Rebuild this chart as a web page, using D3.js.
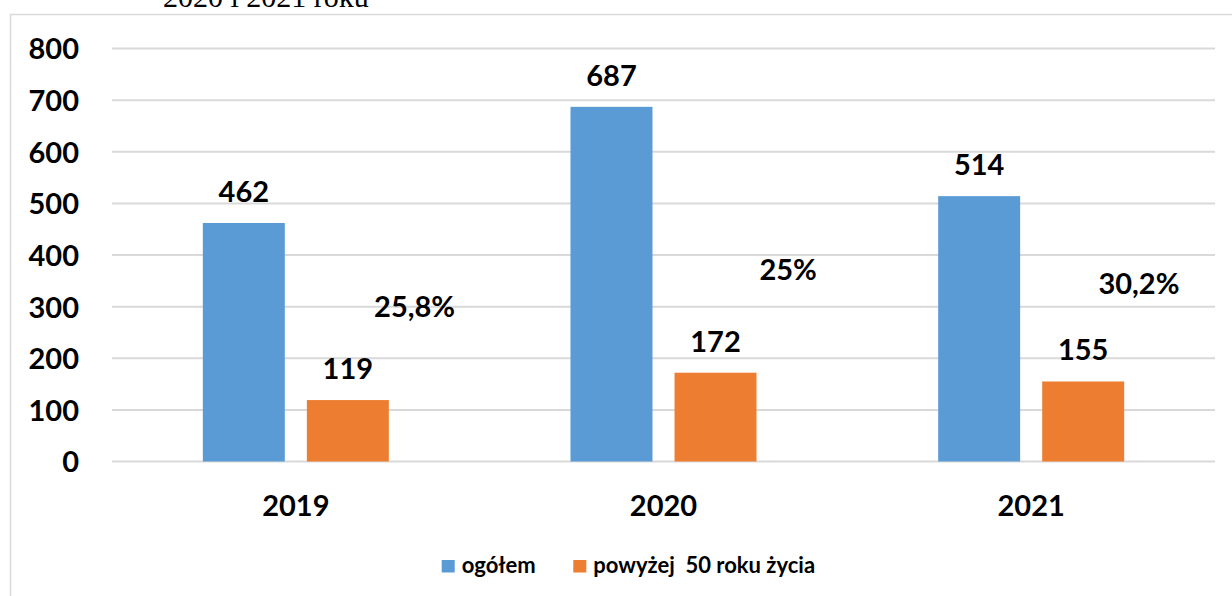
<!DOCTYPE html>
<html>
<head>
<meta charset="utf-8">
<script src="https://cdn.jsdelivr.net/npm/d3@7"></script>
<style>
  html, body { margin: 0; padding: 0; background: #fff; }
  svg { display: block; }
  text { font-family: Lato, "Open Sans", sans-serif; font-weight: bold; fill: #000; }
</style>
</head>
<body>
<svg id="chart" width="1232" height="596"></svg>
<script>
const categories = ["2019", "2020", "2021"];
const seriesNames = ["ogółem", "powyżej  50 roku życia"];
const totalValues = [462, 687, 514];
const over50Values = [119, 172, 155];
const percentLabels = ["25,8%", "25%", "30,2%"];
const yTicks = [0, 100, 200, 300, 400, 500, 600, 700, 800];
const colors = ["#5b9bd5", "#ed7d31"];

const svg = d3.select("#chart");
const W = 1232, H = 596;

// outer frame
svg.append("rect")
  .attr("x", 10.5).attr("y", 14.5)
  .attr("width", W + 20).attr("height", H + 20)
  .attr("fill", "none").attr("stroke", "#d9d9d9").attr("stroke-width", 1.5);

// cut-off caption at the top
svg.append("text")
  .attr("x", 163).attr("y", 7)
  .style("font-family", "'Liberation Serif', 'Times New Roman', serif")
  .style("font-weight", "normal")
  .style("font-size", "30px")
  .text("2020 i 2021 roku");

const plotLeft = 112, plotRight = 1215;
const y = d3.scaleLinear().domain([0, 800]).range([461.5, 48.5]);
const x0 = d3.scaleBand().domain(categories).range([plotLeft, plotRight]).padding(0);
const outer = (x0.bandwidth() - 186) / 2;
const x1 = d3.scaleBand().domain(seriesNames)
  .range([outer, x0.bandwidth() - outer]).paddingInner(0.212).paddingOuter(0);

// gridlines
svg.append("g").selectAll("line").data(yTicks).join("line")
  .attr("x1", plotLeft).attr("x2", plotRight)
  .attr("y1", d => y(d)).attr("y2", d => y(d))
  .attr("stroke", "#d9d9d9").attr("stroke-width", 2);

// y axis labels
const yAxis = d3.axisLeft(y).tickValues(yTicks).tickSize(0).tickPadding(0);
const gy = svg.append("g").attr("transform", "translate(79,0)").call(yAxis);
gy.select(".domain").remove();
gy.selectAll("text")
  .attr("font-family", null).attr("font-size", null)
  .style("font-size", "29px").attr("dy", "0.36em").attr("x", 0);

// x axis labels
const xAxis = d3.axisBottom(x0).tickSize(0).tickPadding(0);
const gx = svg.append("g").attr("transform", "translate(0,516)").call(xAxis);
gx.select(".domain").remove();
gx.selectAll("text")
  .attr("font-family", null).attr("font-size", null)
  .style("font-size", "29px").attr("dy", 0).attr("y", 0);

// bars
const rows = categories.map((c, i) => ({ cat: c, vals: [totalValues[i], over50Values[i]] }));
const groups = svg.append("g").selectAll("g").data(rows).join("g")
  .attr("transform", d => `translate(${x0(d.cat)},0)`);

groups.selectAll("rect").data(d => d.vals.map((v, j) => ({ v, j })))
  .join("rect")
  .attr("x", d => x1(seriesNames[d.j]))
  .attr("width", x1.bandwidth())
  .attr("y", d => y(d.v))
  .attr("height", d => y(0) - y(d.v))
  .attr("fill", d => colors[d.j]);

groups.selectAll("text.val").data(d => d.vals.map((v, j) => ({ v, j })))
  .join("text").attr("class", "val")
  .attr("x", d => x1(seriesNames[d.j]) + x1.bandwidth() / 2)
  .attr("y", d => y(d.v) - 21)
  .attr("text-anchor", "middle")
  .style("font-size", "29px")
  .text(d => d.v);

// percentage annotations (share of over-50 in total)
const pctAnchorFrac = [0.823, 0.839, 0.793];
const pctAnchorLevel = [280.5, 351.6, 324.5];
groups.append("text")
  .attr("x", (d, i) => x0.bandwidth() * pctAnchorFrac[i])
  .attr("y", (d, i) => y(pctAnchorLevel[i]))
  .attr("text-anchor", "middle")
  .style("font-size", "29px")
  .text((d, i) => percentLabels[i]);

// legend
const legend = svg.append("g").attr("transform", "translate(0,573)");
const legendX = [441.7, 573.3];
seriesNames.forEach((name, i) => {
  legend.append("rect")
    .attr("x", legendX[i]).attr("y", -13)
    .attr("width", 13).attr("height", 12.5)
    .attr("fill", colors[i]);
  legend.append("text")
    .attr("x", legendX[i] + 20).attr("y", 0)
    .attr("xml:space", "preserve")
    .style("white-space", "pre")
    .style("font-size", "22px")
    .text(name);
});
</script>
</body>
</html>
